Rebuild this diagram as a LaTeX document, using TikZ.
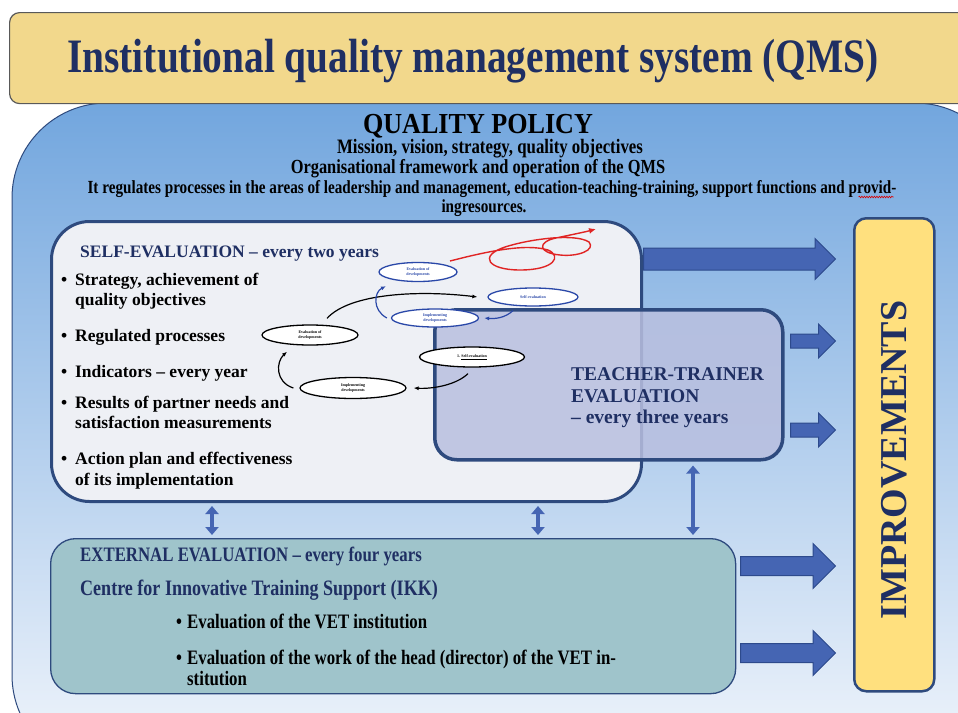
\documentclass[tikz,border=0pt]{standalone}
\usepackage{fontspec}
\setmainfont{Liberation Serif}
\newfontfamily\condfont{Liberation Serif}[FakeStretch=0.82]
\newfontfamily\headfont{Liberation Serif}[FakeStretch=0.9]
\usetikzlibrary{arrows.meta,shapes.geometric,shapes.arrows,positioning,calc,decorations.pathmorphing}

\definecolor{titletan}{HTML}{F2D88C}
\definecolor{navytext}{HTML}{1F2F63}
\definecolor{boxnavy}{HTML}{2E4A7E}
\definecolor{policytop}{HTML}{72A6DE}
\definecolor{policymid}{HTML}{B9D3EF}
\definecolor{policybot}{HTML}{F2F6FC}
\definecolor{selffill}{HTML}{EEF0F5}
\definecolor{teacherfill}{HTML}{B9BFDF}
\definecolor{extfill}{HTML}{9FC4CB}
\definecolor{impfill}{HTML}{FFE07E}
\definecolor{arrowblue}{HTML}{4565B3}
\definecolor{arrowedge}{HTML}{2D4A8C}
\definecolor{cycleblue}{HTML}{2A48A8}
\definecolor{spiralred}{HTML}{E02424}

\tikzset{
  policyarea/.style={draw=boxnavy, line width=1pt, rounded corners=95pt,
    top color=policytop, middle color=policymid, bottom color=policybot},
  titlebox/.style={draw=black!65, line width=1.2pt, fill=titletan, rounded corners=10pt},
  titletext/.style={inner sep=0pt, text=navytext, font={\condfont\bfseries\fontsize{48}{50}\selectfont}},
  policyhead/.style={inner sep=0pt, text=black, font={\headfont\bfseries\fontsize{29}{29}\selectfont}},
  policytext/.style={inner sep=0pt, text=black, font={\condfont\bfseries\fontsize{#1}{#1}\selectfont}},
  spellmark/.style={draw=red!85!black, line width=0.6pt, decorate,
    decoration={snake, amplitude=0.8pt, segment length=2.5pt}},
  selfbox/.style={draw=boxnavy, line width=3pt, fill=selffill, rounded corners=38pt},
  teacherbox/.style={draw=boxnavy, line width=3.5pt, fill=teacherfill, fill opacity=0.85, rounded corners=22pt},
  extbox/.style={draw=boxnavy, line width=1.3pt, fill=extfill, rounded corners=25pt},
  impbox/.style={draw=boxnavy, line width=2.5pt, fill=impfill, rounded corners=12pt},
  headtext/.style={inner sep=0pt, text=navytext, font={\bfseries\fontsize{17.5}{18}\selectfont}},
  bulletline/.style={inner sep=0pt, text=black, font={\bfseries\fontsize{17.5}{18}\selectfont}},
  teachertext/.style={inner sep=0pt, text=navytext, font={\bfseries\fontsize{19.5}{20}\selectfont}},
  exttext/.style={inner sep=0pt, text=navytext, font={\condfont\bfseries\fontsize{#1}{#1}\selectfont}},
  extbullet/.style={inner sep=0pt, text=black, font={\condfont\bfseries\fontsize{20.5}{21}\selectfont}},
  imptext/.style={inner sep=0pt, text=navytext, font={\bfseries\fontsize{38}{38}\selectfont}},
  fatarrow/.style={single arrow, draw=arrowedge, line width=1pt, fill=arrowblue,
    inner xsep=0pt, anchor=tail},
  vlink/.style={draw=arrowblue, line width=4.5pt,
    {Triangle[width=13pt,length=8pt]}-{Triangle[width=13pt,length=8pt]}},
  cyclenode/.style={ellipse, draw=black, line width=1.3pt, fill=white, inner sep=0pt,
    align=center, font={\bfseries\fontsize{4}{4.5}\selectfont}},
  bluenode/.style={cyclenode, draw=cycleblue, text=cycleblue},
  cyclearrow/.style={-{Latex[length=5pt,width=4pt]}, line width=1.2pt, draw=black},
  bluearrow/.style={cyclearrow, draw=cycleblue}
}

\begin{document}
\begin{tikzpicture}[x=1pt,y=-1pt]
  \useasboundingbox (0,0) rectangle (958,712);
  \begin{scope}
  \clip (0,0) rectangle (958,712);
  \fill[white] (0,0) rectangle (958,712);

  % quality policy area
  \path[policyarea] (12,103) rectangle (1010,770);

  % title
  \node[titlebox, minimum width=1000pt, minimum height=91pt, anchor=north west] (title) at (9,12) {};
  \node[titletext, anchor=base] (titlelabel) at (473,72) {Institutional quality management system (QMS)};

  % policy texts
  \node[policyhead, anchor=base] (policy) at (478,133) {QUALITY POLICY};
  \node[policytext=20.5, anchor=base] (mission) at (490,153) {Mission, vision, strategy, quality objectives};
  \node[policytext=20, anchor=base] (frame) at (478,173) {Organisational framework and operation of the QMS};
  \node[policytext=18.5, anchor=base] (regul) at (492,193) {It regulates processes in the areas of leadership and management, education-teaching-training, support functions and provid-};
  \node[policytext=18.5, anchor=base] (regulb) at (484,212) {ingresources.};
  \draw[spellmark] ([shift={(-38,4)}]regul.base east) -- ([shift={(-3,4)}]regul.base east);

  % boxes
  \node[selfbox, minimum width=590pt, minimum height=280pt, anchor=north west] (self) at (50,220) {};
  \node[teacherbox, minimum width=348pt, minimum height=150pt, anchor=north west] (teacher) at (433,308) {};
  \node[extbox, minimum width=685pt, minimum height=155pt, anchor=north west] (ext) at (50,538) {};
  \node[impbox, minimum width=80pt, minimum height=473pt, anchor=north west] (imp) at (853,217) {};

  % self-evaluation texts
  \node[headtext, anchor=base west] (selfhead) at (80,257) {SELF-EVALUATION – every two years};
  \node[bulletline, anchor=base west] (s1a) at (61,285) {\makebox[14pt][l]{\textbullet}Strategy, achievement of};
  \node[bulletline, anchor=base west] (s1b) at (75,305) {quality objectives};
  \node[bulletline, anchor=base west] (s2) at (61,341) {\makebox[14pt][l]{\textbullet}Regulated processes};
  \node[bulletline, anchor=base west] (s3) at (61,377) {\makebox[14pt][l]{\textbullet}Indicators – every year};
  \node[bulletline, anchor=base west] (s4a) at (61,408) {\makebox[14pt][l]{\textbullet}Results of partner needs and};
  \node[bulletline, anchor=base west] (s4b) at (75,428) {satisfaction measurements};
  \node[bulletline, anchor=base west] (s5a) at (61,464) {\makebox[14pt][l]{\textbullet}Action plan and effectiveness};
  \node[bulletline, anchor=base west] (s5b) at (75,485) {of its implementation};

  % teacher-trainer texts
  \node[teachertext, anchor=base west] (t1) at (571,380) {TEACHER-TRAINER};
  \node[teachertext, anchor=base west] (t2) at (571,402) {EVALUATION};
  \node[teachertext, anchor=base west] (t3) at (571,423) {– every three years};

  % external evaluation texts
  \node[exttext=20.5, anchor=base west] (exthead) at (80,561) {EXTERNAL EVALUATION – every four years};
  \node[exttext=22, anchor=base west] (extikk) at (80,595) {Centre for Innovative Training Support (IKK)};
  \node[extbullet, anchor=base west] (e1) at (176,628) {\makebox[11pt][l]{\textbullet}Evaluation of the VET institution};
  \node[extbullet, anchor=base west] (e2a) at (176,664) {\makebox[11pt][l]{\textbullet}Evaluation of the work of the head (director) of the VET in-};
  \node[extbullet, anchor=base west] (e2b) at (187,685) {stitution};

  % improvements
  \node[imptext, rotate=90] (implabel) at (imp.center |- 0,460) {IMPROVEMENTS};

  % cycle of evaluation
  \node[cyclenode, minimum width=96pt, minimum height=20pt] (bev) at (310,335) {Evaluation of\\developments};
  \node[cyclenode, minimum width=105pt, minimum height=20pt] (bse) at (472,357) {1. \underline{Self-evaluation}};
  \node[cyclenode, minimum width=106pt, minimum height=21pt] (bim) at (353,388) {Implementing\\developments};
  \node[bluenode, minimum width=78pt, minimum height=19pt] (lev) at (418,272) {Evaluation of\\developments};
  \node[bluenode, minimum width=90pt, minimum height=18pt] (lse) at (533,297) {Self-evaluation};
  \node[bluenode, minimum width=87pt, minimum height=18pt] (lim) at (435,318) {Implementing\\developments};

  \draw[cyclearrow] ([shift={(17,-6)}]bev.north) .. controls (350,293) and (420,290) .. ([xshift=-10pt]lse.west);
  \draw[cyclearrow] ([shift={(-4,6)}]bse.south) .. controls (455,386) and (430,389) .. ([xshift=7pt]bim.east);
  \draw[cyclearrow] ([xshift=-6pt]bim.west) .. controls (275,382) and (276,362) .. ([shift={(-23,6)}]bev.south);
  \draw[bluearrow] ([shift={(-20,4)}]lse.south) .. controls (505,318) and (495,319) .. ([xshift=5pt]lim.east);
  \draw[bluearrow] ([xshift=-4pt]lim.west) .. controls (372,310) and (374,292) .. ([shift={(-32,4)}]lev.south);

  % red spiral
  \draw[spiralred, line width=1.4pt, -{Latex[length=7pt,width=6pt]}]
    (450,261) .. controls (485,252) and (525,243) .. (548,250)
    .. controls (562,256) and (555,270) .. (520,270)
    .. controls (488,270) and (478,256) .. (505,247)
    .. controls (530,239) and (575,233) .. (589,242)
    .. controls (596,250) and (578,257) .. (560,255)
    .. controls (538,253) and (537,242) .. (556,238)
    .. controls (570,235) and (585,232) .. (596,229);

  % arrows to improvements
  \node[fatarrow, minimum height=192pt, inner ysep=10.5pt, single arrow head extend=9.5pt] (a1) at (643,259) {};
  \node[fatarrow, minimum height=45pt, inner ysep=6.5pt, single arrow head extend=10pt] (a2) at (790,341) {};
  \node[fatarrow, minimum height=45pt, inner ysep=6.5pt, single arrow head extend=10pt] (a3) at (790,430) {};
  \node[fatarrow, minimum height=95pt, inner ysep=9pt, single arrow head extend=13pt] (a4) at (740,566) {};
  \node[fatarrow, minimum height=95pt, inner ysep=9pt, single arrow head extend=13pt] (a5) at (740,653) {};

  % links between evaluations
  \draw[vlink] ([xshift=162pt,yshift=-3pt]self.south west) -- ([xshift=162pt,yshift=3pt]ext.north west);
  \draw[vlink] ([xshift=488pt,yshift=-3pt]self.south west) -- ([xshift=488pt,yshift=3pt]ext.north west);
  \draw[vlink] ([xshift=260pt,yshift=-4pt]teacher.south west) -- ([xshift=643pt,yshift=3pt]ext.north west);
  \end{scope}
\end{tikzpicture}
\end{document}
